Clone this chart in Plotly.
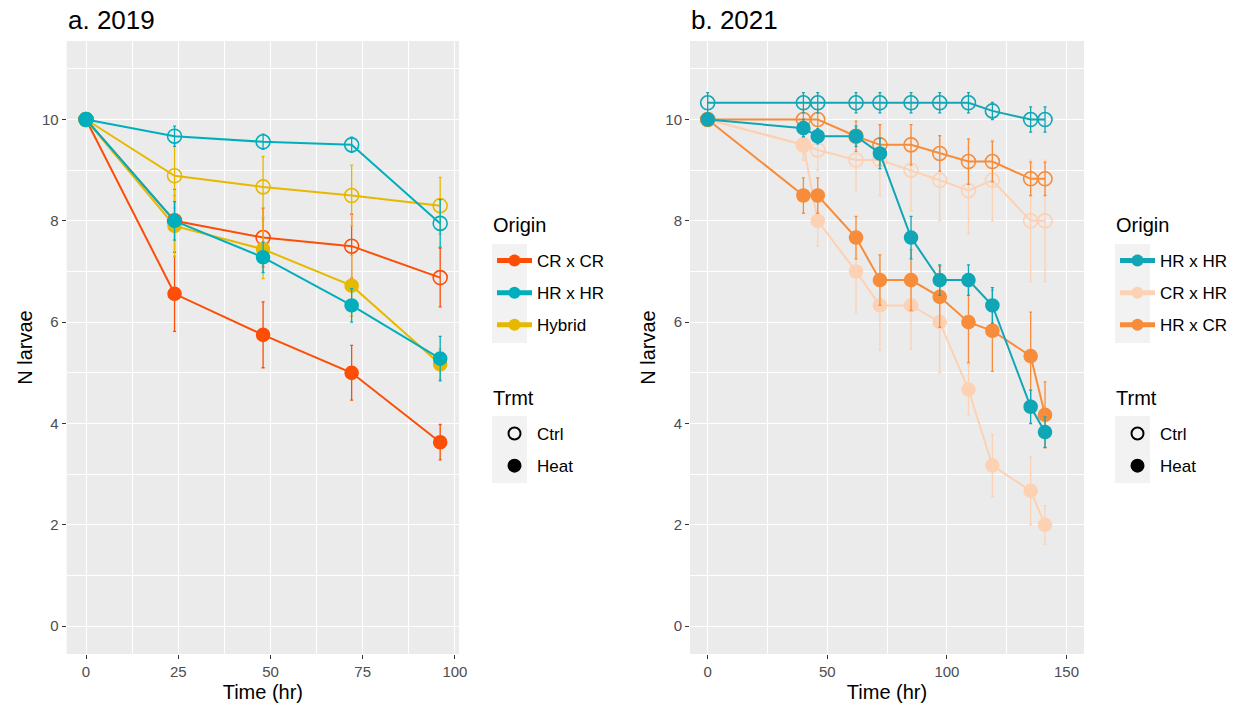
import plotly.graph_objects as go

W, H = 1239, 710

# ---------------- Panel a (2019) ----------------
time_a = [0, 24, 48, 72, 96]
origins_a = ["CR x CR", "HR x HR", "Hybrid"]
colors_a = {"CR x CR": "#FC4E07", "HR x HR": "#00AFBB", "Hybrid": "#E7B800"}

a_crcr_ctrl = [10, 8.0, 7.67, 7.5, 6.88]
a_crcr_ctrl_se = [0, 0.62, 0.58, 0.63, 0.58]
a_crcr_heat = [10, 6.56, 5.75, 5.0, 3.63]
a_crcr_heat_se = [0, 0.74, 0.65, 0.54, 0.35]
a_hrhr_ctrl = [10, 9.67, 9.56, 9.5, 7.95]
a_hrhr_ctrl_se = [0, 0.2, 0.15, 0.15, 0.47]
a_hrhr_heat = [10, 8.0, 7.28, 6.33, 5.28]
a_hrhr_heat_se = [0, 0.38, 0.3, 0.33, 0.44]
a_hyb_ctrl = [10, 8.89, 8.67, 8.5, 8.3]
a_hyb_ctrl_se = [0, 0.64, 0.6, 0.6, 0.56]
a_hyb_heat = [10, 7.9, 7.44, 6.72, 5.17]
a_hyb_heat_se = [0, 0.6, 0.58, 0.6, 0.3]

# ---------------- Panel b (2021) ----------------
time_b = [0, 40, 46, 62, 72, 85, 97, 109, 119, 135, 141]
origins_b = ["HR x HR", "CR x HR", "HR x CR"]
colors_b = {"HR x HR": "#10A6B5", "CR x HR": "#FDD1B3", "HR x CR": "#F78C3A"}

b_hrhr_ctrl = [10.33, 10.33, 10.33, 10.33, 10.33, 10.33, 10.33, 10.33, 10.17, 10.0, 10.0]
b_hrhr_ctrl_se = [0.2, 0.2, 0.2, 0.2, 0.2, 0.2, 0.2, 0.2, 0.17, 0.25, 0.25]
b_hrhr_heat = [10, 9.83, 9.67, 9.67, 9.33, 7.67, 6.83, 6.83, 6.33, 4.33, 3.83]
b_hrhr_heat_se = [0, 0.17, 0.15, 0.2, 0.3, 0.42, 0.3, 0.3, 0.35, 0.33, 0.3]
b_crhr_ctrl = [10, 9.5, 9.4, 9.2, 9.2, 9.0, 8.8, 8.6, 8.8, 8.0, 8.0]
b_crhr_ctrl_se = [0, 0.3, 0.4, 0.6, 0.7, 0.8, 0.8, 0.85, 0.8, 1.2, 1.2]
b_crhr_heat = [10, 9.5, 8.0, 7.0, 6.33, 6.33, 6.0, 4.67, 3.17, 2.67, 2.0]
b_crhr_heat_se = [0, 0.3, 0.5, 0.8, 0.88, 0.86, 1.0, 0.5, 0.62, 0.67, 0.38]
b_hrcr_ctrl = [10, 10, 10, 9.67, 9.5, 9.5, 9.33, 9.17, 9.17, 8.83, 8.83]
b_hrcr_ctrl_se = [0, 0.2, 0.2, 0.3, 0.4, 0.4, 0.35, 0.45, 0.4, 0.33, 0.33]
b_hrcr_heat = [10, 8.5, 8.5, 7.67, 6.83, 6.83, 6.5, 6.0, 5.83, 5.33, 4.17]
b_hrcr_heat_se = [0, 0.35, 0.35, 0.42, 0.5, 0.6, 0.6, 0.8, 0.8, 0.87, 0.65]

FONT = "Liberation Sans, Arial, Helvetica, sans-serif"
fig = go.Figure()


def add_series(x, y, se, color, filled, xa, ya):
    fig.add_trace(go.Scatter(
        x=x, y=y, mode="lines+markers", xaxis=xa, yaxis=ya, showlegend=False,
        line=dict(color=color, width=2),
        marker=dict(symbol="circle" if filled else "circle-open", size=13 if filled else 14,
                    color=color, line=dict(color=color, width=1.6)),
        error_y=dict(type="data", array=se, visible=True, color=color,
                     thickness=1.3, width=1.5),
        hoverinfo="x+y",
    ))


# draw order panel a: CR, Hybrid, HR
series_a = [
    ("CR x CR", a_crcr_ctrl, a_crcr_ctrl_se, a_crcr_heat, a_crcr_heat_se),
    ("Hybrid", a_hyb_ctrl, a_hyb_ctrl_se, a_hyb_heat, a_hyb_heat_se),
    ("HR x HR", a_hrhr_ctrl, a_hrhr_ctrl_se, a_hrhr_heat, a_hrhr_heat_se),
]
for name, yc, sc, yh, sh in series_a:
    add_series(time_a, yc, sc, colors_a[name], False, "x", "y")
    add_series(time_a, yh, sh, colors_a[name], True, "x", "y")

series_b = [
    ("CR x HR", b_crhr_ctrl, b_crhr_ctrl_se, b_crhr_heat, b_crhr_heat_se),
    ("HR x CR", b_hrcr_ctrl, b_hrcr_ctrl_se, b_hrcr_heat, b_hrcr_heat_se),
    ("HR x HR", b_hrhr_ctrl, b_hrhr_ctrl_se, b_hrhr_heat, b_hrhr_heat_se),
]
for name, yc, sc, yh, sh in series_b:
    add_series(time_b, yc, sc, colors_b[name], False, "x2", "y2")
    add_series(time_b, yh, sh, colors_b[name], True, "x2", "y2")

# ---- legend entries (legend-only traces) ----
def legend_origin(name, color, legend):
    fig.add_trace(go.Scatter(
        x=[None], y=[None], mode="lines+markers", name=name, legend=legend,
        legendgroup=legend + name,
        line=dict(color=color, width=1.6), marker=dict(symbol="circle", size=13, color=color),
    ))


def legend_trmt(name, filled, legend):
    fig.add_trace(go.Scatter(
        x=[None], y=[None], mode="markers", name=name, legend=legend,
        legendgroup=legend + name,
        marker=dict(symbol="circle" if filled else "circle-open", size=12, color="black",
                    line=dict(color="black", width=1.4)),
    ))


for n in origins_a:
    legend_origin(n, colors_a[n], "legend")
legend_trmt("Ctrl", False, "legend2")
legend_trmt("Heat", True, "legend2")
for n in origins_b:
    legend_origin(n, colors_b[n], "legend3")
legend_trmt("Ctrl", False, "legend4")
legend_trmt("Heat", True, "legend4")

# ---- layout ----
def px_x(p):
    return p / W


def px_y(p):
    return 1 - p / H


ydom = [px_y(654), px_y(41)]
axis_common = dict(
    showgrid=True, gridcolor="white", gridwidth=1.3, zeroline=False,
    ticks="outside", ticklen=4, tickwidth=1.1, tickcolor="#333333",
    tickfont=dict(family=FONT, size=15, color="#4D4D4D"),
    showline=False, automargin=False,
)

legend_common = dict(
    bgcolor="rgba(0,0,0,0)", xanchor="left", yanchor="top",
    font=dict(family=FONT, size=17, color="black"),
    tracegroupgap=7, traceorder="grouped", itemsizing="constant", itemwidth=35,
)

title_font = dict(family=FONT, size=20, color="black")


def ann(text, x, y, size, xanchor="left"):
    return dict(text=text, x=px_x(x), y=px_y(y), xref="paper", yref="paper",
                xanchor=xanchor, yanchor="middle", showarrow=False,
                font=dict(family=FONT, size=size, color="black"))


fig.update_layout(
    width=W, height=H, margin=dict(l=0, r=0, t=0, b=0),
    paper_bgcolor="white", plot_bgcolor="#EBEBEB",
    font=dict(family=FONT, color="black"),
    xaxis=dict(domain=[px_x(66.7), px_x(459)], range=[-5.23, 101.1], anchor="y",
               tickvals=[0, 25, 50, 75, 100],
               minor=dict(tickvals=[12.5, 37.5, 62.5, 87.5], showgrid=True, gridcolor="white", gridwidth=0.6, ticks=""),
               title=dict(text="Time (hr)", font=title_font, standoff=5),
               **axis_common),
    yaxis=dict(domain=ydom, range=[-0.55, 11.55], anchor="x",
               tickvals=[0, 2, 4, 6, 8, 10],
               minor=dict(tickvals=[1, 3, 5, 7, 9, 11], showgrid=True, gridcolor="white", gridwidth=0.6, ticks=""),
               title=dict(text="N larvae", font=title_font, standoff=4),
               **axis_common),
    xaxis2=dict(domain=[px_x(690), px_x(1084)], range=[-7.4, 157.3], anchor="y2",
                tickvals=[0, 50, 100, 150],
                minor=dict(tickvals=[25, 75, 125], showgrid=True, gridcolor="white", gridwidth=0.6, ticks=""),
                title=dict(text="Time (hr)", font=title_font, standoff=5),
                **axis_common),
    yaxis2=dict(domain=ydom, range=[-0.55, 11.55], anchor="x2",
                tickvals=[0, 2, 4, 6, 8, 10],
                minor=dict(tickvals=[1, 3, 5, 7, 9, 11], showgrid=True, gridcolor="white", gridwidth=0.6, ticks=""),
                title=dict(text="N larvae", font=title_font, standoff=4),
                **axis_common),
    legend=dict(x=px_x(492), y=px_y(243), **legend_common),
    legend2=dict(x=px_x(492), y=px_y(416), **legend_common),
    legend3=dict(x=px_x(1115), y=px_y(243), **legend_common),
    legend4=dict(x=px_x(1115), y=px_y(416), **legend_common),
    annotations=[
        ann("a. 2019", 66, 20, 26),
        ann("b. 2021", 689, 20, 26),
        ann("Origin", 491, 225, 20),
        ann("Trmt", 491, 398, 20),
        ann("Origin", 1114, 225, 20),
        ann("Trmt", 1114, 398, 20),
    ],
    shapes=[
        dict(type="rect", xref="paper", yref="paper", layer="below", line=dict(width=0),
             fillcolor="#F2F2F2", x0=px_x(x0), x1=px_x(x0 + 35), y0=px_y(y1), y1=px_y(y0))
        for x0, y0, y1 in [(492, 244, 343), (492, 416, 483), (1115, 244, 343), (1115, 416, 483)]
    ],
)

fig.write_html("out.html")
